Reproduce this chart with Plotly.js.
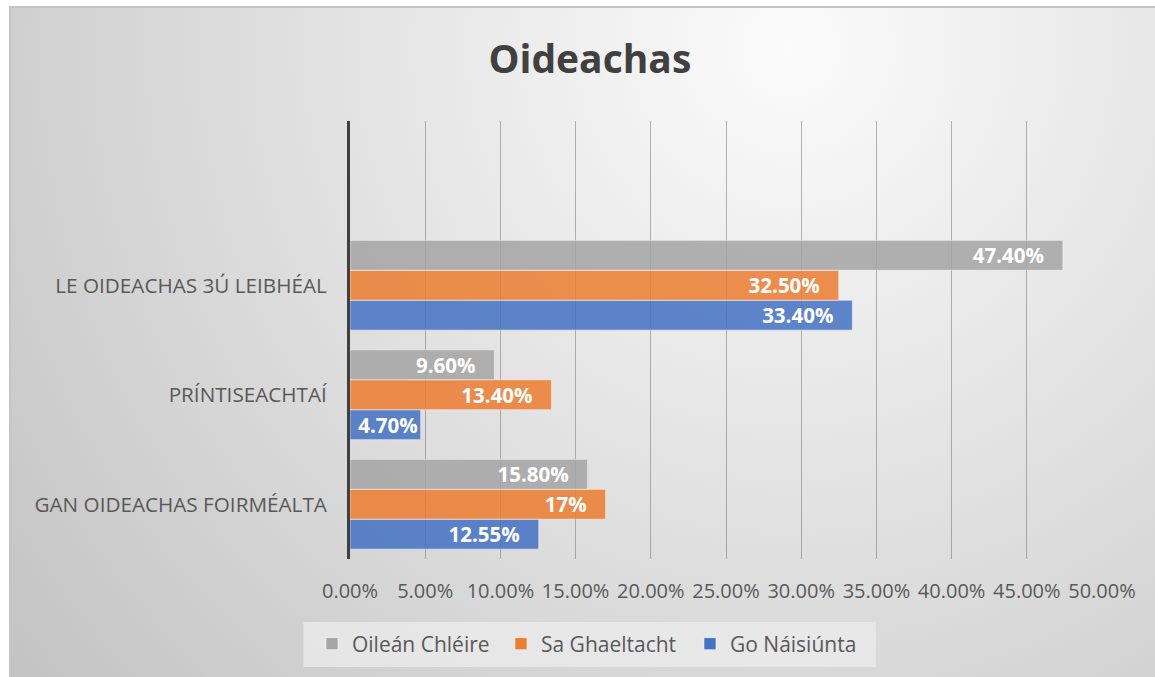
<!DOCTYPE html>
<html>
<head>
<meta charset="utf-8">
<script src="https://cdn.plot.ly/plotly-3.0.1.min.js"></script>
<style>
  html, body { margin: 0; padding: 0; background: #ffffff; width: 1155px; height: 677px; overflow: hidden; }
  #frame {
    position: absolute; left: 9px; top: 6px; width: 1146px; height: 671px;
    background: radial-gradient(circle farthest-corner at 68% 6%, #fbfbfb 0%, #e4e4e4 42%, #c3c3c3 100%);
    border-top: 2px solid #c4c4c4; border-left: 2px solid #c4c4c4; box-sizing: border-box;
  }
  #chart { position: absolute; left: -1px; top: -1px; width: 1146px; height: 671px; }
</style>
</head>
<body>
<div id="frame"><div id="chart"></div></div>
<script>
// Categories (bottom to top on the axis)
const categories = ['GAN OIDEACHAS FOIRMÉALTA', 'PRÍNTISEACHTAÍ', 'LE OIDEACHAS 3Ú LEIBHÉAL'];

// Series values (percent)
const oileanChleire = [15.8, 9.6, 47.4];
const saGhaeltacht = [17, 13.4, 32.5];
const goNaisiunta = [12.55, 4.7, 33.4];

// Data labels as shown
const oileanChleireLabels = ['15.80%', '9.60%', '47.40%'];
const saGhaeltachtLabels = ['17%', '13.40%', '32.50%'];
const goNaisiuntaLabels = ['12.55%', '4.70%', '33.40%'];

// X axis ticks
const xTickVals = [0, 5, 10, 15, 20, 25, 30, 35, 40, 45, 50];
const xTickText = ['0.00%', '5.00%', '10.00%', '15.00%', '20.00%', '25.00%', '30.00%', '35.00%', '40.00%', '45.00%', '50.00%'];

const FONT = '"Open Sans", "Noto Sans", sans-serif';
// right padding inside the bar end, only where the bar is wide enough
const pad = (s, v) => v > 8 ? s + '\u00a0\u00a0\u00a0' : s;

function series(name, x, labels, color) {
  return {
    type: 'bar', orientation: 'h', name: name,
    y: categories, x: x,
    text: labels.map((s, i) => pad(s, x[i])),
    textposition: 'inside', insidetextanchor: 'end', constraintext: 'none',
    cliponaxis: false,
    textfont: { family: FONT, size: 20.5, color: '#ffffff', weight: 'bold' },
    marker: { color: color, opacity: 0.85, line: { color: 'rgba(255,255,255,0.55)', width: 1 } },
    hoverinfo: 'x+y+name'
  };
}

const traces = [
  series('Go Náisiúnta', goNaisiunta, goNaisiuntaLabels, '#4472c4'),
  series('Sa Ghaeltacht', saGhaeltacht, saGhaeltachtLabels, '#ed7d31'),
  series('Oileán Chléire', oileanChleire, oileanChleireLabels, '#a5a5a5')
];

const layout = {
  width: 1146, height: 671,
  paper_bgcolor: 'rgba(0,0,0,0)', plot_bgcolor: 'rgba(0,0,0,0)',
  margin: { l: 339.5, r: 53.5, t: 114, b: 119 },
  barmode: 'group', bargap: 0.18, bargroupgap: 0,
  font: { family: FONT, color: '#595959', size: 20 },
  title: {
    text: 'Oideachas', xref: 'container', x: 0.506, xanchor: 'center',
    yref: 'container', y: 0.9225, yanchor: 'middle',
    font: { family: FONT, size: 39, color: '#404040', weight: 'bold' }
  },
  xaxis: {
    range: [0, 50], tickvals: xTickVals, ticktext: xTickText,
    showgrid: true, gridcolor: 'rgba(110,110,110,0.5)', gridwidth: 1,
    zeroline: false, showline: false, ticks: '',
    tickfont: { family: FONT, size: 20, color: '#595959' },
    ticklabelstandoff: 18, fixedrange: true
  },
  yaxis: {
    type: 'category', categoryorder: 'array', categoryarray: categories,
    range: [-0.5, 3.5],
    showline: true, linecolor: '#404040', linewidth: 3,
    showgrid: false, zeroline: false, ticks: '',
    tickfont: { family: FONT, size: 20.7, color: '#595959' },
    ticklabelstandoff: 16, fixedrange: true
  },
  shapes: [{
    type: 'rect', xref: 'paper', yref: 'paper', layer: 'below',
    x0: -0.0618, x1: 0.6992, y0: -0.2466, y1: -0.1438,
    fillcolor: 'rgba(236,236,236,0.75)', line: { width: 0 }
  }],
  showlegend: true,
  legend: {
    orientation: 'h', traceorder: 'reversed',
    xref: 'container', yref: 'container', x: 0.2635, xanchor: 'left', y: 0.0507, yanchor: 'middle',
    bgcolor: 'rgba(0,0,0,0)', borderwidth: 0,
    font: { family: FONT, size: 21, color: '#595959' },
    itemwidth: 30, entrywidth: 144, entrywidthmode: 'pixels'
  }
};

Plotly.newPlot('chart', traces, layout, { displayModeBar: false, staticPlot: true });
</script>
</body>
</html>
